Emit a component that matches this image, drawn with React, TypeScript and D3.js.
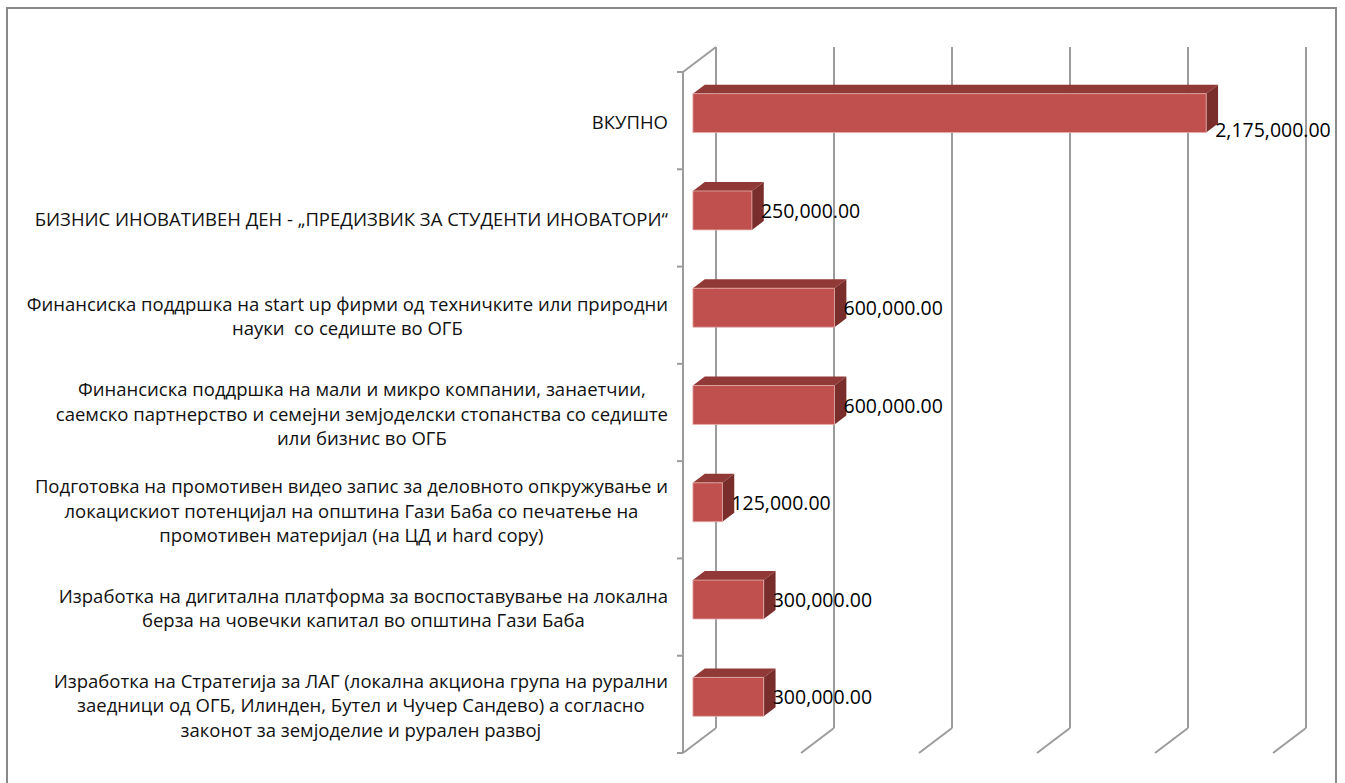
import React from "react";
import * as d3 from "d3";

const categories: string[] = [
  "ВКУПНО",
  "БИЗНИС ИНОВАТИВЕН ДЕН - „ПРЕДИЗВИК ЗА СТУДЕНТИ ИНОВАТОРИ“",
  "Финансиска поддршка на start up фирми од техничките или природни\nнауки  со седиште во ОГБ",
  "Финансиска поддршка на мали и микро компании, занаетчии,\nсаемско партнерство и семејни земјоделски стопанства со седиште\nили бизнис во ОГБ",
  "Подготовка на промотивен видео запис за деловното опкружување и\nлокацискиот потенцијал на општина Гази Баба со печатење на\nпромотивен материјал (на ЦД и hard copy)",
  "Изработка на дигитална платформа за воспоставување на локална\nберза на човечки капитал во општина Гази Баба",
  "Изработка на Стратегија за ЛАГ (локална акциона група на рурални\nзаедници од ОГБ, Илинден, Бутел и Чучер Сандево) а согласно\nзаконот за земјоделие и рурален развој",
];

const values: number[] = [2175000, 250000, 600000, 600000, 125000, 300000, 300000];

const valueTicks: number[] = [0, 500000, 1000000, 1500000, 2000000, 2500000];

const W = 1345;
const H = 783;
const FONT = '"Open Sans", "Liberation Sans", sans-serif';
const CAT_SIZE = 18.5;
const LBL_SIZE = 19.5;
const LINE_H = 24.5;

// 3D depth projection
const DX = 33;
const DY = 25;
const D0 = 0.3;
const D1 = 0.66;

let ctx: CanvasRenderingContext2D | null = null;
function measure(text: string, size: number): number {
  if (!ctx) {
    const c = document.createElement("canvas");
    ctx = c.getContext("2d");
  }
  if (!ctx) return text.length * size * 0.55;
  ctx.font = `${size}px ${FONT}`;
  return ctx.measureText(text).width;
}

const fmt = (v: number) => d3.format(",.2f")(v);

export default function App() {
  const plotTop = 72;
  const plotBottom = 753;
  const axisX = 683;
  const xMaxFront = 1273;

  const x = d3.scaleLinear().domain([0, 2500000]).range([axisX, xMaxFront]);
  const yCat = d3.scaleBand<string>().domain(categories).range([plotTop, plotBottom]);
  const yBar = d3
    .scaleBand<string>()
    .domain(categories)
    .range([plotTop, plotBottom])
    .paddingInner(0.6)
    .paddingOuter(0.3);
  const bw = yBar.bandwidth();

  const P = (xf: number, yf: number, d: number): [number, number] => [xf + d * DX, yf - d * DY];
  const poly = (pts: [number, number][]) => pts.map((p) => p.join(",")).join(" ");

  const grid = "#9c9c9c";
  const labelRight = axisX - 15;
  const backRight = x(2500000) + DX;

  const catTicks = categories.map((c) => yCat(c)!).concat([plotBottom]);

  return (
    <div style={{ position: "absolute", left: 0, top: 0 }}>
      <svg width={W} height={H} style={{ display: "block", background: "#fff" }}>
        {/* outer frame */}
        <rect x={7} y={8} width={1329} height={800} fill="none" stroke="#8a8a8a" strokeWidth={2} />

        {/* back wall gridlines + floor */}
        {valueTicks.map((t, i) => {
          const [bx0, by0] = P(x(t), plotTop, 1);
          const [bx1, by1] = P(x(t), plotBottom, 1);
          const [fx, fy] = P(x(t), plotBottom, 0);
          return (
            <g key={i}>
              <line x1={bx0} y1={by0} x2={bx1} y2={by1} stroke={grid} strokeWidth={2} />
              <line x1={bx1} y1={by1} x2={fx} y2={fy} stroke={grid} strokeWidth={2} />
            </g>
          );
        })}
        {/* left side wall */}
        <line x1={axisX} y1={plotTop} x2={axisX} y2={plotBottom} stroke={grid} strokeWidth={2} />
        <line
          x1={axisX}
          y1={plotTop}
          x2={P(axisX, plotTop, 1)[0]}
          y2={P(axisX, plotTop, 1)[1]}
          stroke={grid}
          strokeWidth={2}
        />
        {catTicks.map((ty, i) => (
          <line key={i} x1={axisX - 6} y1={ty} x2={axisX} y2={ty} stroke={grid} strokeWidth={2} />
        ))}

        {/* bars */}
        {categories.map((c, i) => {
          const v = values[i];
          const x0 = x(0);
          const x1 = x(v);
          const y0 = yBar(c)!;
          const y1 = y0 + bw;
          const front = [P(x0, y0, D0), P(x1, y0, D0), P(x1, y1, D0), P(x0, y1, D0)];
          const top = [P(x0, y0, D0), P(x1, y0, D0), P(x1, y0, D1), P(x0, y0, D1)];
          const side = [P(x1, y0, D0), P(x1, y0, D1), P(x1, y1, D1), P(x1, y1, D0)];
          return (
            <g key={i}>
              <polygon points={poly(top)} fill="#913936" />
              <polygon points={poly(side)} fill="#7a2e2c" />
              <polygon points={poly(front)} fill="#c0504d" stroke="#e3aeac" strokeWidth={0.8} />
            </g>
          );
        })}

        {/* data labels */}
        {categories.map((c, i) => {
          const v = values[i];
          const text = fmt(v);
          const [fx, fy] = P(x(v), yBar(c)! + bw / 2, D0);
          const lx = fx + 9;
          const overflow = lx + measure(text, LBL_SIZE) > backRight;
          const ly = fy + (overflow ? bw * 0.42 : 0);
          return (
            <text
              key={i}
              x={lx}
              y={ly}
              dominantBaseline="central"
              fontFamily={FONT}
              fontSize={LBL_SIZE}
              fill="#000"
            >
              {text}
            </text>
          );
        })}

        {/* category labels */}
        {categories.map((c, i) => {
          const lines = c.split("\n");
          const maxW = d3.max(lines, (l) => measure(l, CAT_SIZE)) ?? 0;
          const cx = labelRight - maxW / 2;
          const cy = yCat(c)! + yCat.bandwidth() / 2;
          const startY = cy - ((lines.length - 1) * LINE_H) / 2;
          return (
            <text
              key={i}
              fontFamily={FONT}
              fontSize={CAT_SIZE}
              fill="#111"
              textAnchor="middle"
              dominantBaseline="central"
            >
              {lines.map((l, j) => (
                <tspan key={j} x={cx} y={startY + j * LINE_H} style={{ whiteSpace: "pre" }}>
                  {l}
                </tspan>
              ))}
            </text>
          );
        })}
      </svg>
    </div>
  );
}
